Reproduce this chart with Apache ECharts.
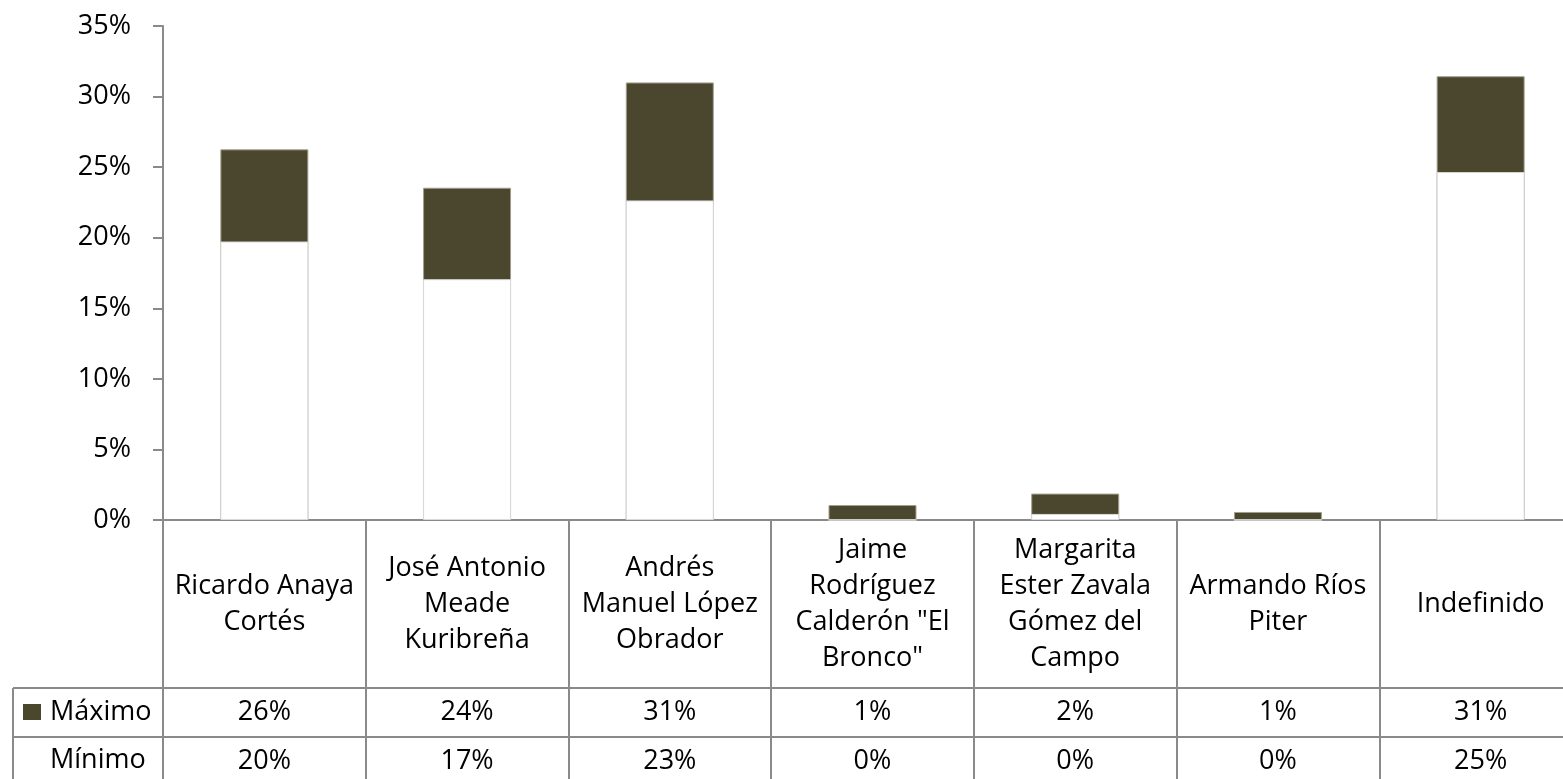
<!DOCTYPE html>
<html>
<head>
<meta charset="utf-8">
<script src="https://cdn.jsdelivr.net/npm/echarts@6/dist/echarts.min.js"></script>
<style>
  html, body { margin: 0; padding: 0; background: #fff; }
  #chart { width: 1563px; height: 779px; }
</style>
</head>
<body>
<div id="chart"></div>
<script>
// Candidates (line breaks as they wrap in the table header)
const categories = [
  'Ricardo Anaya\nCortés',
  'José Antonio\nMeade\nKuribreña',
  'Andrés\nManuel López\nObrador',
  'Jaime\nRodríguez\nCalderón "El\nBronco"',
  'Margarita\nEster Zavala\nGómez del\nCampo',
  'Armando Ríos\nPiter',
  'Indefinido'
];
// Upper and lower ends of each range, in percent
const maximo = [26.26, 23.54, 31.0, 1.06, 1.87, 0.57, 31.44];
const minimo = [19.73, 17.06, 22.64, 0, 0.43, 0, 24.65];
// Value axis ticks
const yMin = 0, yMax = 35, yStep = 5;

const seriesNames = ['Máximo', 'Mínimo'];
const DARK = '#4b462e';
const LINE = '#8a8a8a';
const FONT = '"Open Sans", "Liberation Sans", sans-serif';
const FS = 27;

// Table geometry below the axis
const AXIS_Y = 520, ROW1_Y = 688, ROW2_Y = 737, ROW3_Y = 785, TABLE_LEFT = 13;

const chart = echarts.init(document.getElementById('chart'), null, { renderer: 'canvas' });

chart.setOption({
  animation: false,
  backgroundColor: '#fff',
  textStyle: { fontFamily: FONT },
  grid: { left: 163, top: 26, width: 1419, height: AXIS_Y - 26, containLabel: false, outerBoundsMode: 'none' },
  legend: {
    orient: 'vertical',
    left: TABLE_LEFT + 10,
    top: 697,
    padding: 0,
    itemWidth: 18,
    itemHeight: 16,
    itemGap: 18,
    selectedMode: false,
    icon: 'rect',
    textStyle: { fontFamily: FONT, fontSize: FS, lineHeight: 30, color: '#000', padding: [0, 0, 0, 4] },
    data: [
      { name: seriesNames[0], itemStyle: { color: DARK, borderWidth: 0 } },
      { name: seriesNames[1], itemStyle: { color: 'rgba(0,0,0,0)', borderWidth: 0 } }
    ]
  },
  xAxis: {
    type: 'category',
    data: categories,
    boundaryGap: true,
    axisLine: { show: true, lineStyle: { color: LINE, width: 2 } },
    axisTick: { show: true, interval: 0, alignWithLabel: false, length: 779 - AXIS_Y + 10, lineStyle: { color: LINE, width: 2 } },
    axisLabel: {
      interval: 0,
      margin: (ROW1_Y - AXIS_Y) / 2,
      verticalAlign: 'middle',
      align: 'center',
      fontFamily: FONT,
      fontSize: FS,
      lineHeight: 36,
      color: '#000'
    },
    splitLine: { show: false }
  },
  yAxis: {
    type: 'value',
    min: yMin,
    max: yMax,
    interval: yStep,
    axisLine: { show: true, lineStyle: { color: LINE, width: 2 } },
    axisTick: { show: true, length: 10, lineStyle: { color: LINE, width: 2 } },
    axisLabel: { formatter: '{value}%', fontFamily: FONT, fontSize: FS, color: '#000', margin: 32 },
    splitLine: { show: false }
  },
  series: [
    {
      name: seriesNames[0],
      type: 'bar',
      data: maximo,
      barWidth: '43.4%',
      barGap: '-100%',
      z: 2,
      itemStyle: { color: DARK, borderColor: '#a29e8c', borderWidth: 1 }
    },
    {
      name: seriesNames[1],
      type: 'bar',
      data: minimo,
      barWidth: '43.4%',
      barGap: '-100%',
      z: 3,
      itemStyle: { color: '#fff', borderColor: '#dadada', borderWidth: 1 }
    }
  ]
});

// Data table: horizontal rules, row-header border and rounded values per column
const graphics = [];
const W = chart.getWidth();
[ROW1_Y, ROW2_Y].forEach(function (y) {
  graphics.push({ type: 'line', shape: { x1: TABLE_LEFT, y1: y, x2: W, y2: y }, style: { stroke: LINE, lineWidth: 2 }, z: 10 });
});
graphics.push({ type: 'line', shape: { x1: TABLE_LEFT, y1: ROW1_Y, x2: TABLE_LEFT, y2: 779 }, style: { stroke: LINE, lineWidth: 2 }, z: 10 });

const rows = [maximo, minimo];
const rowCenters = [(ROW1_Y + ROW2_Y) / 2, (ROW2_Y + ROW3_Y) / 2];
rows.forEach(function (vals, r) {
  vals.forEach(function (v, i) {
    const x = chart.convertToPixel({ xAxisIndex: 0 }, i);
    graphics.push({
      type: 'text',
      x: x,
      y: rowCenters[r],
      z: 10,
      style: {
        text: Math.round(v) + '%',
        fill: '#000',
        font: FS + 'px ' + FONT,
        align: 'center',
        verticalAlign: 'middle'
      }
    });
  });
});
chart.setOption({ graphic: graphics });
</script>
</body>
</html>
